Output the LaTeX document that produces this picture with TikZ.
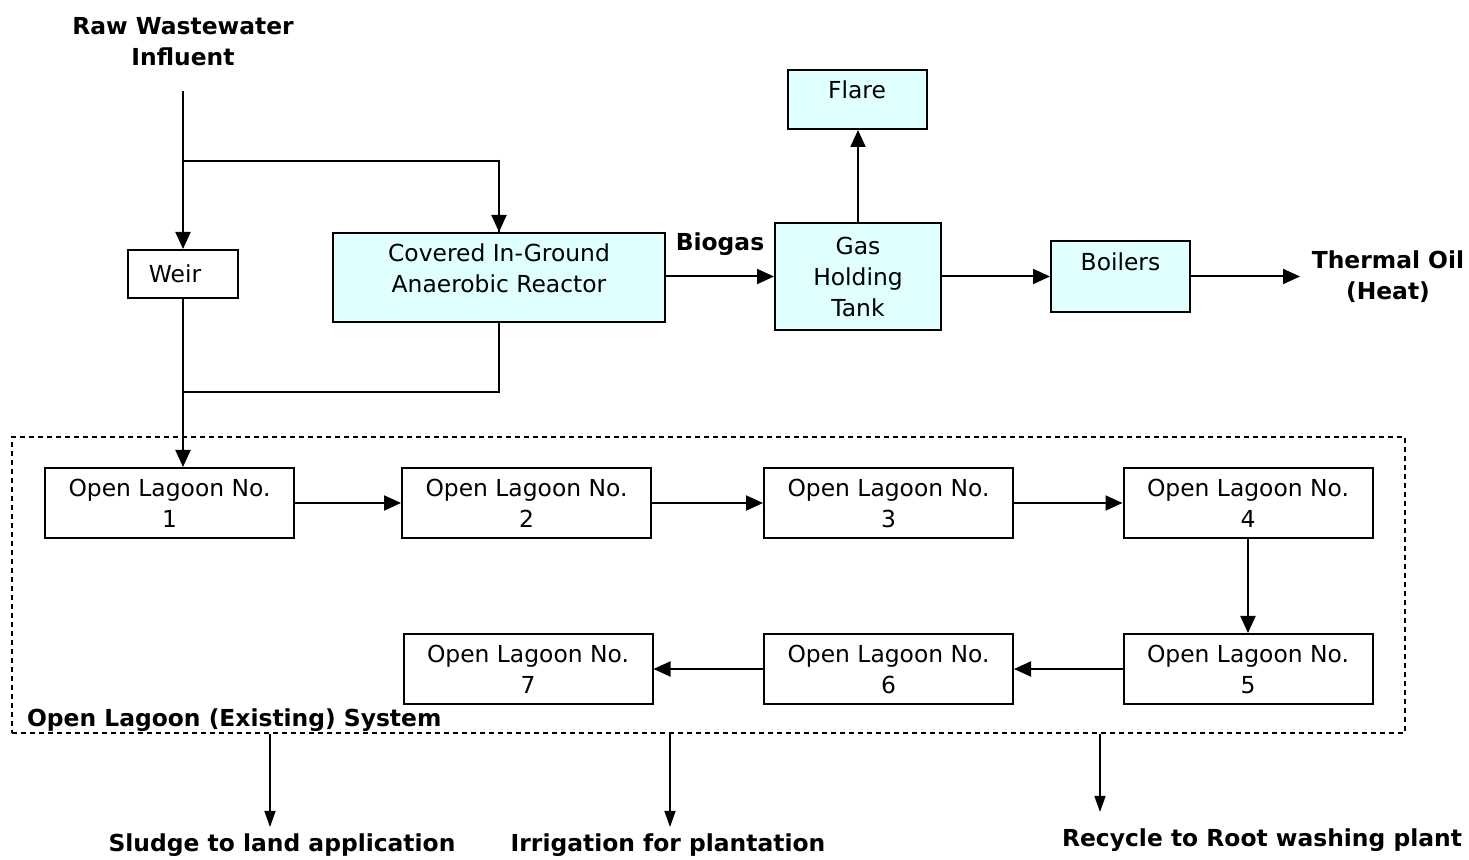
\documentclass[tikz,border=0pt]{standalone}
\usepackage{fontspec}
\setmainfont{DejaVu Sans}
\usetikzlibrary{arrows.meta}

\definecolor{gasfill}{RGB}{224,255,255}

\tikzset{
    base/.style={font=\fontsize{11.7}{15.5}\selectfont},
    unit/.style={base, draw, line width=1pt, align=center, inner sep=0pt},
    gasunit/.style={unit, fill=gasfill},
    lagoon/.style={unit, minimum width=124.5pt, minimum height=35pt},
    tag/.style={base, font=\fontsize{11.7}{15.5}\selectfont\bfseries, align=center},
    flow/.style={line width=1pt, -{Triangle[length=8.5pt,width=7.5pt]}},
    outflow/.style={line width=0.8pt, -{Triangle[length=8pt,width=5.5pt]}},
}

\begin{document}
\begin{tikzpicture}[x=0.5pt, y=-0.5pt]
    \useasboundingbox (0,0) rectangle (1469,860);

    % influent and anaerobic reactor
    \node[tag] (raw) at (183,42) {Raw Wastewater\\Influent};
    \node[unit, minimum width=55pt, minimum height=24pt] (weir) at (183,274) {Weir\hspace{8pt}};
    \node[gasunit, minimum width=166pt, minimum height=44.5pt, text depth=9pt] (reactor) at (499,277.5) {Covered In-Ground\\Anaerobic Reactor};
    \coordinate (split) at (183,161);
    \coordinate (merge) at (183,392);

    \draw[flow, shorten <=9pt] (raw) -- (weir);
    \draw[line width=0.8pt] (split) -| (reactor.north);
    \draw[flow] (split -| reactor.north) ++(0,-1) -- (reactor.north);

    % biogas line
    \node[gasunit, minimum width=83pt, minimum height=53.5pt] (tank) at (858,276.5) {Gas\\Holding\\Tank};
    \node[gasunit, minimum width=69.5pt, minimum height=29.5pt, text height=9pt, text depth=9.5pt] (flare) at (857,99.5) {Flare};
    \node[gasunit, minimum width=69.5pt, minimum height=35.5pt, text height=9pt, text depth=15pt] (boilers) at (1120.5,276.5) {Boilers};
    \node[tag] (biogas) at (720,244) {Biogas};
    \node[tag] (heat) at (1388,277) {Thermal Oil\\(Heat)};
    \coordinate (heatend) at (1300,276.5);

    \draw[flow] (reactor.east |- tank) -- (tank.west);
    \draw[flow] (tank.north) -- (tank.north |- flare.south);
    \draw[flow] (tank.east) -- (boilers.west);
    \draw[flow] (boilers.east) -- (heatend);

    % existing lagoon system
    \node[draw, dashed, dash pattern=on 2.5pt off 2pt, line width=0.7pt, minimum width=696.5pt, minimum height=148pt] (lagsys) at (708.5,585) {};
    \node[tag, anchor=base west] (systitle) at (20,727) {Open Lagoon (Existing) System};

    \node[lagoon] (lag1) at (169.5,503) {Open Lagoon No.\\1};
    \node[lagoon] (lag2) at (526.5,503) {Open Lagoon No.\\2};
    \node[lagoon] (lag3) at (888.5,503) {Open Lagoon No.\\3};
    \node[lagoon] (lag4) at (1248,503) {Open Lagoon No.\\4};
    \node[lagoon] (lag5) at (1248,669) {Open Lagoon No.\\5};
    \node[lagoon] (lag6) at (888.5,669) {Open Lagoon No.\\6};
    \node[lagoon] (lag7) at (528,669) {Open Lagoon No.\\7};

    \draw[flow] (weir.south) -- (weir.south |- lag1.north);
    \draw[line width=0.8pt] (reactor.south) |- (merge);

    \foreach \a/\b in {lag1/lag2, lag2/lag3, lag3/lag4, lag5/lag6, lag6/lag7}
        \draw[flow] (\a) -- (\b);
    \draw[flow] (lag4) -- (lag5);

    % outlets
    \node[tag] (sludge) at (282,845) {Sludge to land application};
    \node[tag] (irrig) at (668,845) {Irrigation for plantation};
    \node[tag] (recycle) at (1262,840) {Recycle to Root washing plant};
    \coordinate (out1) at (270,827);
    \coordinate (out2) at (670,827);
    \coordinate (out3) at (1100,812);

    \draw[outflow] (lagsys.south -| out1) -- (out1);
    \draw[outflow] (lagsys.south -| out2) -- (out2);
    \draw[outflow] (lagsys.south -| out3) -- (out3);
\end{tikzpicture}
\end{document}
